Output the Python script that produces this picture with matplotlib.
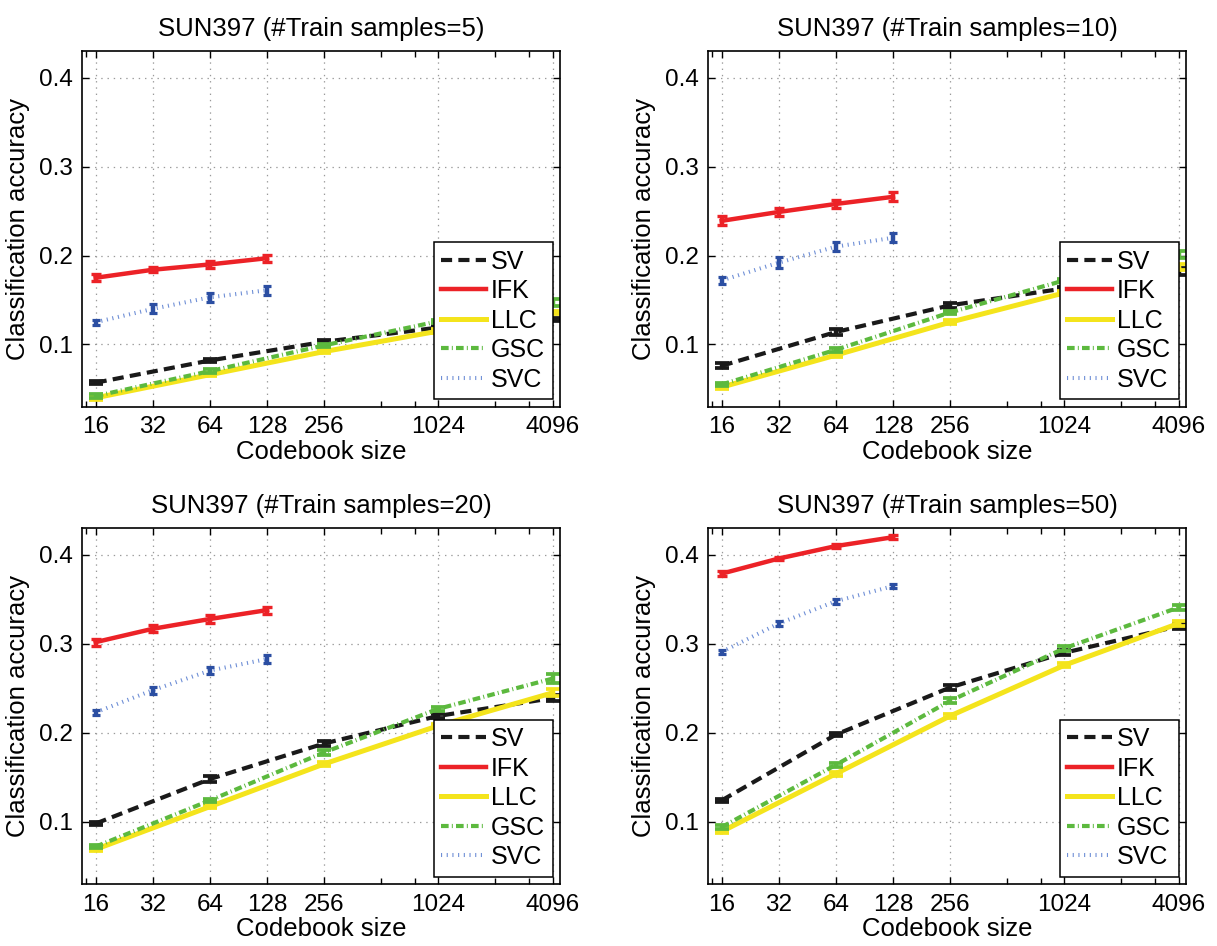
import matplotlib
matplotlib.use('Agg')
import matplotlib.pyplot as plt

plt.rcParams['font.family'] = ['Liberation Sans', 'DejaVu Sans']
plt.rcParams['lines.scale_dashes'] = False

# ---------------- data ----------------
train_samples = [5, 10, 20, 50]
codebook_long = [16, 64, 256, 1024, 4096]      # SV, LLC, GSC
codebook_short = [16, 32, 64, 128]             # IFK, SVC
x_ticks = [16, 32, 64, 128, 256, 1024, 4096]
x_tick_labels = ['16', '32', '64', '128', '256', '1024', '4096']
x_minor_ticks = [14.3, 512, 768, 2048, 3072]
y_ticks = [0.1, 0.2, 0.3, 0.4]
y_tick_labels = ['0.1', '0.2', '0.3', '0.4']
methods = ['SV', 'IFK', 'LLC', 'GSC', 'SVC']

sv_acc = [[0.057, 0.082, 0.103, 0.119, 0.128],
          [0.076, 0.114, 0.144, 0.163, 0.182],
          [0.098, 0.148, 0.188, 0.219, 0.239],
          [0.124, 0.198, 0.251, 0.290, 0.320]]
sv_err = [[0.002, 0.002, 0.002, 0.002, 0.002],
          [0.003, 0.003, 0.003, 0.002, 0.004],
          [0.002, 0.003, 0.003, 0.002, 0.003],
          [0.002, 0.002, 0.003, 0.003, 0.003]]

ifk_acc = [[0.175, 0.184, 0.190, 0.197],
           [0.239, 0.249, 0.258, 0.266],
           [0.302, 0.317, 0.328, 0.338],
           [0.379, 0.396, 0.410, 0.420]]
ifk_err = [[0.004, 0.003, 0.004, 0.004],
           [0.005, 0.004, 0.005, 0.005],
           [0.004, 0.004, 0.004, 0.004],
           [0.003, 0.002, 0.002, 0.002]]

llc_acc = [[0.040, 0.066, 0.092, 0.115, 0.136],
           [0.052, 0.088, 0.125, 0.158, 0.187],
           [0.069, 0.117, 0.165, 0.208, 0.245],
           [0.089, 0.154, 0.219, 0.276, 0.323]]
llc_err = [[0.002, 0.002, 0.002, 0.002, 0.002],
           [0.002, 0.002, 0.002, 0.002, 0.003],
           [0.002, 0.002, 0.002, 0.002, 0.004],
           [0.002, 0.002, 0.002, 0.002, 0.003]]

gsc_acc = [[0.042, 0.070, 0.099, 0.126, 0.147],
           [0.055, 0.094, 0.136, 0.172, 0.201],
           [0.072, 0.124, 0.178, 0.227, 0.261],
           [0.094, 0.164, 0.236, 0.295, 0.341]]
gsc_err = [[0.002, 0.002, 0.002, 0.002, 0.004],
           [0.002, 0.002, 0.002, 0.002, 0.004],
           [0.002, 0.002, 0.003, 0.002, 0.005],
           [0.002, 0.002, 0.003, 0.003, 0.003]]

svc_acc = [[0.125, 0.140, 0.153, 0.161],
           [0.172, 0.192, 0.210, 0.220],
           [0.223, 0.248, 0.270, 0.283],
           [0.291, 0.323, 0.348, 0.365]]
svc_err = [[0.003, 0.005, 0.005, 0.005],
           [0.004, 0.006, 0.005, 0.005],
           [0.003, 0.004, 0.004, 0.004],
           [0.002, 0.003, 0.003, 0.002]]

# ---------------- styles ----------------
C_SV = '#1a1a1a'
C_IFK = '#ec2227'
C_LLC = '#f4e41c'
C_GSC = '#5cb93e'
C_SVC_LINE = '#6f8fd6'
C_SVC_BAR = '#2b4ea2'

styles = {
    'SV':  dict(color=C_SV, lw=3.0, dashes=(8.0, 4.5)),
    'IFK': dict(color=C_IFK, lw=3.2, linestyle='-'),
    'LLC': dict(color=C_LLC, lw=3.6, linestyle='-'),
    'GSC': dict(color=C_GSC, lw=3.0, dashes=(5.5, 2.3, 0.7, 2.3)),
    'SVC': dict(color=C_SVC_LINE, lw=2.9, dashes=(0.8, 3.3)),
}

FS = 18
fig = plt.figure(figsize=(12.17, 9.46), dpi=100)
W, H = 1217.0, 946.0
col_left = [82.3, 708.3]
row_top = [51.0, 528.3]
ax_w, ax_h = 478.0, 355.7

for k, n in enumerate(train_samples):
    r, c = divmod(k, 2)
    ax = fig.add_axes([col_left[c] / W, 1 - (row_top[r] + ax_h) / H, ax_w / W, ax_h / H])
    ax.set_xscale('log')

    series = [
        ('SV', codebook_long, sv_acc[k], sv_err[k], C_SV, 5.2, 2.7),
        ('IFK', codebook_short, ifk_acc[k], ifk_err[k], C_IFK, 3.6, 2.4),
        ('LLC', codebook_long, llc_acc[k], llc_err[k], C_LLC, 5.2, 2.7),
        ('GSC', codebook_long, gsc_acc[k], gsc_err[k], C_GSC, 5.2, 2.7),
        ('SVC', codebook_short, svc_acc[k], svc_err[k], C_SVC_BAR, 3.2, 2.3),
    ]
    handles = []
    for name, xs, ys, es, bar_col, cap, capt in series:
        ln, = ax.plot(xs, ys, label=name, **styles[name])
        ax.errorbar(xs, ys, yerr=es, fmt='none', ecolor=bar_col,
                    elinewidth=3.2, capsize=cap, capthick=capt)
        handles.append(ln)

    ax.set_xlim(13.6, 4500)
    ax.set_ylim(0.03, 0.43)
    ax.set_xticks(x_ticks)
    ax.set_xticklabels(x_tick_labels)
    ax.set_xticks(x_minor_ticks, minor=True)
    ax.set_xticklabels([], minor=True)
    ax.set_yticks(y_ticks)
    ax.set_yticklabels(y_tick_labels)
    ax.tick_params(which='both', direction='in', top=True, right=True,
                   labelsize=17.5, width=1.0, colors='black')
    ax.tick_params(which='major', length=5, pad=7)
    ax.tick_params(which='minor', length=4)
    ax.grid(True, which='major', color='#9a9a9a', linestyle=(0, (1.0, 3.5)), linewidth=0.9)
    for sp in ax.spines.values():
        sp.set_linewidth(1.2)
        sp.set_color('black')

    ax.set_title('SUN397 (#Train samples=%d)' % n, fontsize=FS + 0.5, pad=11)
    ax.set_xlabel('Codebook size', fontsize=FS + 0.5, labelpad=1)
    ax.set_ylabel('Classification accuracy', fontsize=FS + 0.5, labelpad=6)

    leg = ax.legend(handles, methods, loc='lower right', fontsize=FS,
                    fancybox=False, framealpha=1.0, edgecolor='black',
                    borderaxespad=0.3, handlelength=1.8, handletextpad=0.2,
                    labelspacing=0.22, borderpad=0.3)
    leg.get_frame().set_linewidth(1.1)
    leg.set_zorder(10)

fig.savefig('out.png', dpi=100)
